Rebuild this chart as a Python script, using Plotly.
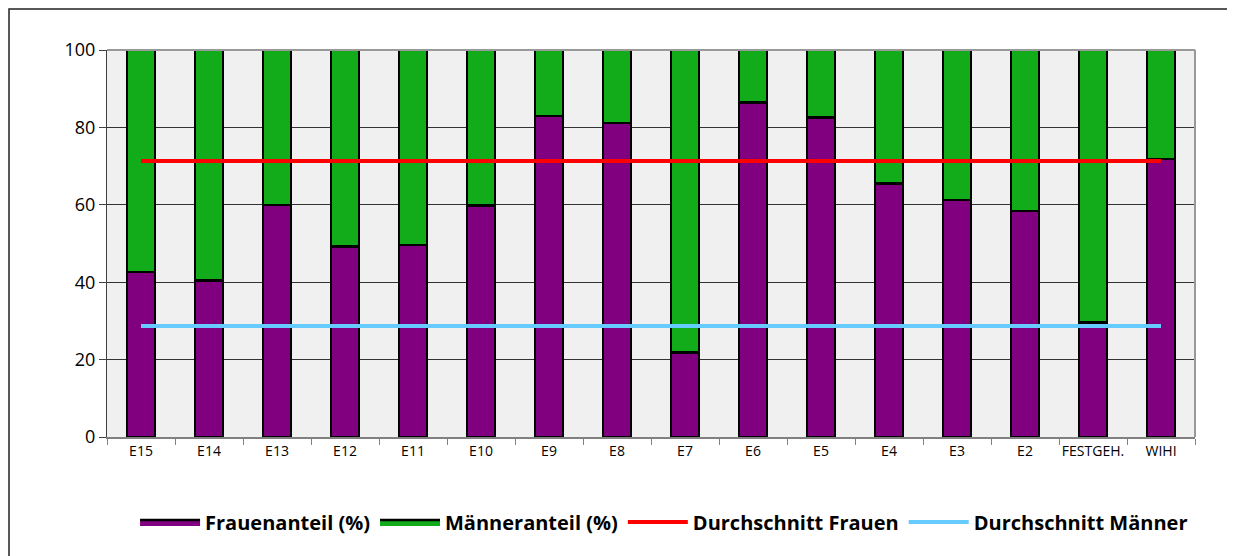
import plotly.graph_objects as go

categories = ["E15", "E14", "E13", "E12", "E11", "E10", "E9", "E8", "E7", "E6",
              "E5", "E4", "E3", "E2", "FESTGEH.", "WIHI"]
frauen = [42.7, 40.5, 60.0, 49.2, 49.6, 59.8, 82.9, 81.2, 21.8, 86.4,
          82.5, 65.5, 61.2, 58.4, 29.6, 71.8]
maenner = [round(100 - v, 1) for v in frauen]
avg_frauen = 71.3
avg_maenner = 28.7
y_ticks = [0, 20, 40, 60, 80, 100]

W, H = 1227, 548
L, T, R, B = 99, 42, 40, 119

FR_COL, MA_COL = "#800080", "#12AB1A"

fig = go.Figure()
fig.add_trace(go.Bar(x=categories, y=frauen, name="Frauenanteil (%)", showlegend=False,
                     marker=dict(color=FR_COL, line=dict(color="black", width=2.5))))
fig.add_trace(go.Bar(x=categories, y=maenner, name="Männeranteil (%)", showlegend=False,
                     marker=dict(color=MA_COL, line=dict(color="black", width=2.5))))
# legend entries with wide filled boxes
for name, col in [("Frauenanteil (%)", FR_COL), ("Männeranteil (%)", MA_COL)]:
    fig.add_trace(go.Scatter(x=[None], y=[None], mode="lines", fill="toself",
                             fillcolor=col, name=name,
                             line=dict(color="black", width=2.5)))
fig.add_trace(go.Scatter(x=categories, y=[avg_frauen] * len(categories), mode="lines",
                         name="Durchschnitt Frauen", line=dict(color="#FF0000", width=4)))
fig.add_trace(go.Scatter(x=categories, y=[avg_maenner] * len(categories), mode="lines",
                         name="Durchschnitt Männer", line=dict(color="#66CCFF", width=4)))

pw = W - L - R
ph = H - T - B

fig.update_layout(
    width=W, height=H,
    barmode="stack", bargap=0.59,
    paper_bgcolor="white", plot_bgcolor="#F0F0F0",
    margin=dict(l=L, r=R, t=T, b=B, autoexpand=False),
    font=dict(family="Open Sans, DejaVu Sans, sans-serif", color="black"),
    showlegend=True,
    legend=dict(orientation="h", x=0.512, xanchor="center",
                yref="container", y=(H - 514) / H, yanchor="middle",
                traceorder="normal",
                font=dict(family="Open Sans, sans-serif", size=20, weight="bold"),
                itemwidth=60, tracegroupgap=0),
    xaxis=dict(showline=True, linecolor="#808080", linewidth=2, ticks="outside",
               tickson="boundaries", ticklen=6, tickcolor="#808080", tickangle=0,
               tickfont=dict(size=14), mirror=False, showgrid=False),
    yaxis=dict(range=[0, 100], tickvals=y_ticks, showline=True, linecolor="#404040",
               linewidth=1, ticks="outside", ticklen=7, tickcolor="#404040",
               tickfont=dict(size=18), showgrid=True, gridcolor="#333333", gridwidth=1,
               zeroline=False),
    shapes=[
        dict(type="line", xref="paper", yref="paper", x0=0, x1=1, y0=1, y1=1,
             line=dict(color="#999999", width=2)),
        dict(type="line", xref="paper", yref="paper", x0=1, x1=1, y0=0, y1=1,
             line=dict(color="#999999", width=2)),
        dict(type="rect", xref="paper", yref="paper",
             x0=(1 - L) / pw, x1=(W + 20 - L) / pw,
             y0=-(B + 20) / ph, y1=1 + (T - 1) / ph,
             line=dict(color="#222222", width=1.5), layer="below"),
    ],
)

fig.write_html("out.html")
